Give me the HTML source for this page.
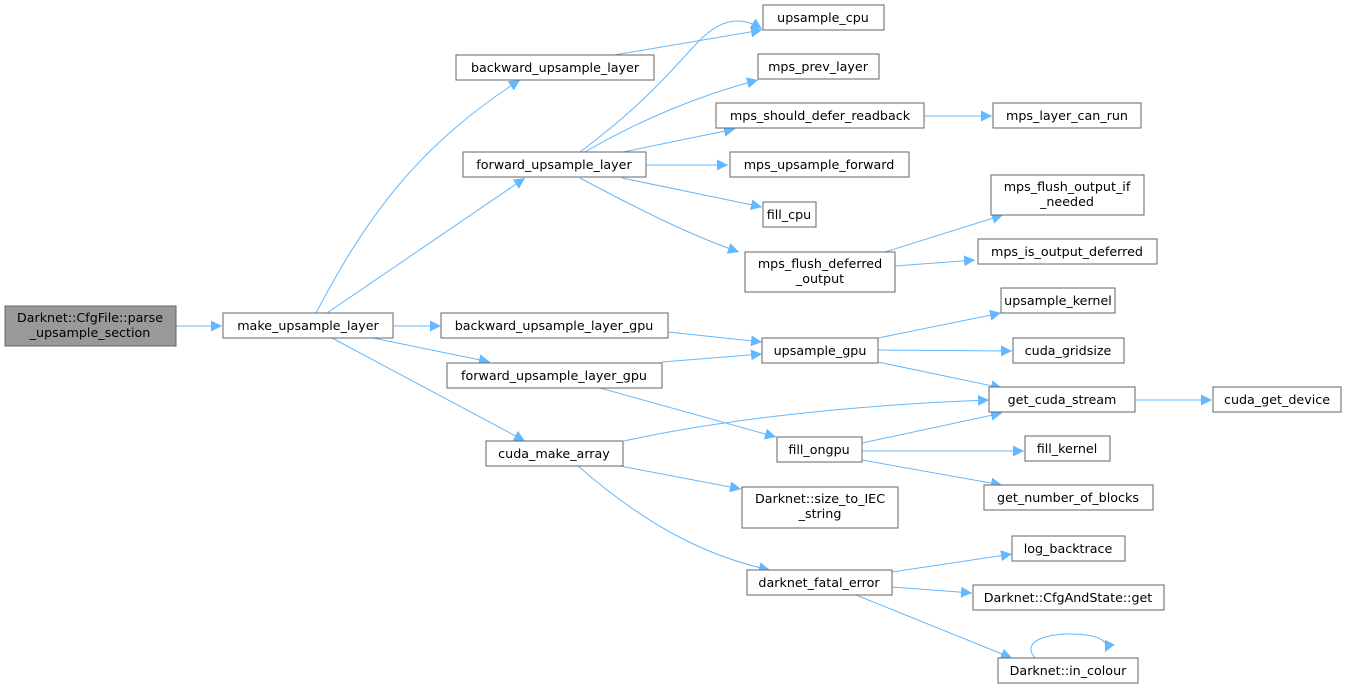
<!DOCTYPE html>
<html><head><meta charset="utf-8"><style>
html,body{margin:0;padding:0;background:#fff;}
svg{display:block;}
text{font-family:"DejaVu Sans","Liberation Sans",sans-serif;font-size:12.7px;fill:#000;text-anchor:middle;}
.b{fill:#fff;stroke:#666;stroke-width:1;}
.e{fill:none;stroke:#63b8ff;stroke-width:1;}
</style></head><body>
<svg width="1348" height="689" viewBox="0 0 1348 689" xmlns="http://www.w3.org/2000/svg">
<defs><marker id="a" viewBox="0 0 10 10" refX="10" refY="5" markerWidth="11" markerHeight="11" markerUnits="userSpaceOnUse" orient="auto"><path d="M0,0 L10,5 L0,10 z" fill="#63b8ff"/></marker></defs>
<g class="e" marker-end="url(#a)">
<path d="M176,326 L222,326"/>
<path d="M316,313 C360,230 410,150 520,80"/>
<path d="M327,313 L525,178"/>
<path d="M393,326 L441,326"/>
<path d="M373,338 L490,362"/>
<path d="M332,338 L525,441"/>
<path d="M614,55 L762,30"/>
<path d="M580,152 C650,100 680,60 700,40 C720,20 740,15 762,29"/>
<path d="M585,152 C640,120 700,95 758,80"/>
<path d="M623,152 L735,129"/>
<path d="M646,165 L728,165"/>
<path d="M622,178 L762,207"/>
<path d="M580,178 C640,210 690,235 739,252"/>
<path d="M924,116 L992,116"/>
<path d="M885,252 L1003,215"/>
<path d="M895,266 L975,260"/>
<path d="M668,332 L762,342"/>
<path d="M662,362 L762,354"/>
<path d="M600,388 L776,437"/>
<path d="M878,338 L1001,313"/>
<path d="M878,350 L1012,351"/>
<path d="M878,362 L1002,388"/>
<path d="M624,441 C720,420 850,405 989,400"/>
<path d="M862,443 L1002,413"/>
<path d="M862,451 L1024,451"/>
<path d="M862,460 L1002,485"/>
<path d="M1135,400 L1212,400"/>
<path d="M620,466 L741,489"/>
<path d="M578,466 C640,520 700,555 770,570"/>
<path d="M892,572 L1012,554"/>
<path d="M892,587 L972,593"/>
<path d="M856,595 L1012,658"/>
<path d="M1035,658 C1020,640 1050,634 1070,634 C1090,634 1112,638 1105,652"/>
</g>
<rect x="5" y="306" width="171" height="40" fill="#999" stroke="#666"/>
<text x="90" y="322">Darknet::CfgFile::parse</text><text x="90" y="337">_upsample_section</text>
<rect class="b" x="223" y="313" width="170" height="25"/><text x="308" y="330">make_upsample_layer</text>
<rect class="b" x="456" y="55" width="198" height="25"/><text x="555" y="72">backward_upsample_layer</text>
<rect class="b" x="463" y="152" width="183" height="25"/><text x="554" y="169">forward_upsample_layer</text>
<rect class="b" x="441" y="313" width="227" height="25"/><text x="554" y="330">backward_upsample_layer_gpu</text>
<rect class="b" x="447" y="363" width="215" height="25"/><text x="554" y="380">forward_upsample_layer_gpu</text>
<rect class="b" x="486" y="441" width="137" height="25"/><text x="554" y="458">cuda_make_array</text>
<rect class="b" x="763" y="5" width="121" height="25"/><text x="823" y="22">upsample_cpu</text>
<rect class="b" x="758" y="54" width="121" height="25"/><text x="818" y="71">mps_prev_layer</text>
<rect class="b" x="716" y="103" width="208" height="25"/><text x="820" y="120">mps_should_defer_readback</text>
<rect class="b" x="730" y="152" width="179" height="25"/><text x="819" y="169">mps_upsample_forward</text>
<rect class="b" x="763" y="202" width="53" height="25"/><text x="789" y="219">fill_cpu</text>
<rect class="b" x="745" y="252" width="150" height="40"/><text x="820" y="268">mps_flush_deferred</text><text x="820" y="283">_output</text>
<rect class="b" x="993" y="103" width="148" height="25"/><text x="1067" y="120">mps_layer_can_run</text>
<rect class="b" x="991" y="175" width="153" height="40"/><text x="1067" y="191">mps_flush_output_if</text><text x="1067" y="206">_needed</text>
<rect class="b" x="978" y="239" width="179" height="25"/><text x="1067" y="256">mps_is_output_deferred</text>
<rect class="b" x="1001" y="288" width="114" height="25"/><text x="1058" y="305">upsample_kernel</text>
<rect class="b" x="762" y="338" width="116" height="25"/><text x="820" y="355">upsample_gpu</text>
<rect class="b" x="1013" y="338" width="111" height="25"/><text x="1068" y="355">cuda_gridsize</text>
<rect class="b" x="989" y="387" width="146" height="25"/><text x="1062" y="404">get_cuda_stream</text>
<rect class="b" x="1213" y="387" width="128" height="25"/><text x="1277" y="404">cuda_get_device</text>
<rect class="b" x="777" y="437" width="85" height="25"/><text x="819" y="454">fill_ongpu</text>
<rect class="b" x="1025" y="436" width="85" height="25"/><text x="1067" y="453">fill_kernel</text>
<rect class="b" x="984" y="485" width="169" height="25"/><text x="1068" y="502">get_number_of_blocks</text>
<rect class="b" x="742" y="487" width="156" height="41"/><text x="820" y="503">Darknet::size_to_IEC</text><text x="820" y="518">_string</text>
<rect class="b" x="1012" y="536" width="113" height="25"/><text x="1068" y="553">log_backtrace</text>
<rect class="b" x="747" y="570" width="145" height="25"/><text x="819" y="587">darknet_fatal_error</text>
<rect class="b" x="973" y="585" width="191" height="25"/><text x="1068" y="602">Darknet::CfgAndState::get</text>
<rect class="b" x="998" y="658" width="140" height="25"/><text x="1068" y="675">Darknet::in_colour</text>
</svg>
</body></html>
